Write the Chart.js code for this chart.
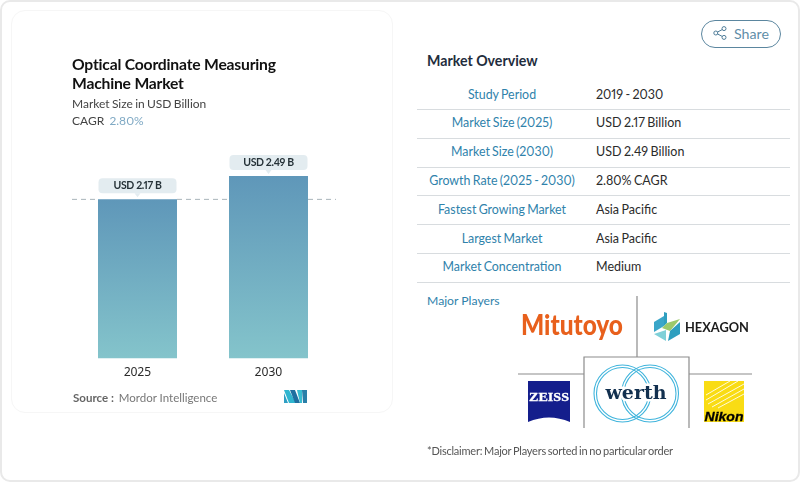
<!DOCTYPE html>
<html>
<head>
<meta charset="utf-8">
<script src="https://cdn.jsdelivr.net/npm/chart.js@4"></script>
<style>
  html, body { margin:0; padding:0; background:#fff; }
  body { width:800px; height:482px; position:relative; overflow:hidden; font-family:Lato, sans-serif; font-feature-settings:"pnum"; }
  .abs { position:absolute; white-space:nowrap; }
  #frame { left:0; top:0; width:796px; height:478px; border:2px solid #e9e9e9; border-radius:10px; }
  #card { left:11px; top:10px; width:380px; height:401px; border:1px solid #f6f6f6; border-radius:14px; }
  #chartBox { left:0; top:0; width:400px; height:482px; }
  .title { left:72px; font-size:15.7px; font-weight:700; color:#111; letter-spacing:-.2px; }
  .sub { left:72px; font-size:12px; color:#444; word-spacing:-.8px; }
  #share { left:701px; top:20px; width:78px; height:26px; border:1px solid #5b869f; border-radius:14px; }
  #shareTxt { left:734px; top:25px; font-size:14.2px; color:#5f8ea8; }
  #overview { left:427px; top:52px; font-size:14.2px; font-weight:700; color:#1f2d3d; }
  .rowLine { left:417px; width:373px; height:1px; background:#d8dcdf; }
  .lbl { left:417px; width:170px; text-align:center; font-size:12.4px; color:#2f82ab; word-spacing:-.9px; }
  .val { left:596px; font-size:12.5px; color:#2b2b2b; word-spacing:-.8px; }
  #players { left:427px; top:293px; font-size:12.2px; color:#2f82ab; }
  #disclaimer { left:427px; top:444px; font-size:11px; color:#555; word-spacing:-.8px; letter-spacing:-.22px; }
  #source { left:73px; top:391px; font-size:11.5px; color:#777; }
  #source b { color:#666; margin-right:2px; }
  svg.abs { overflow:visible; }
</style>
</head>
<body>
<div class="abs" id="frame"></div>
<div class="abs" id="card"></div>
<div class="abs" id="chartBox"><canvas id="chart"></canvas></div>

<div class="abs title" style="top:55px">Optical Coordinate Measuring</div>
<div class="abs title" style="top:74px">Machine Market</div>
<div class="abs sub" style="top:96px">Market Size in USD Billion</div>
<div class="abs sub" style="top:113px">CAGR <span style="color:#7fa9c4;margin-left:3px">2.80%</span></div>
<div class="abs" id="source"><b>Source :</b> Mordor Intelligence</div>

<svg class="abs" style="left:284px;top:390px" width="24" height="13" viewBox="0 0 24 13">
  <polygon points="0,0 5,0 12,13 5,13" fill="#2fb5cf"/>
  <polygon points="0,3 4,13 0,13" fill="#2f9fc4"/>
  <polygon points="6,0 11,0 16,13 11,13" fill="#1f6fa0"/>
  <polygon points="13,0 18,0 18,13 16,13" fill="#38bcd0"/>
  <polygon points="18,0 23,0 23,13 19,13" fill="#2a7fa8"/>
</svg>

<div class="abs" id="share"></div>
<svg class="abs" style="left:713px;top:26px" width="14" height="14" viewBox="0 0 14 14" fill="none" stroke="#4f7d99" stroke-width="1">
  <circle cx="11" cy="2.6" r="2"/><circle cx="2.8" cy="7" r="2"/><circle cx="11" cy="11.4" r="2"/>
  <path d="M4.6 6 L9.2 3.6 M4.6 8 L9.2 10.4"/>
</svg>
<div class="abs" id="shareTxt">Share</div>

<div class="abs" id="overview">Market Overview</div>
<div id="table"></div>

<div class="abs" id="players">Major Players</div>

<svg class="abs" style="left:0;top:0" width="800" height="482" viewBox="0 0 800 482">
  <g fill="none" stroke="#8c8c8c" stroke-width="1.2">
    <path d="M637 296 V357 M584 428 V357 H689 V428 M518 374 H584 M689 374 H752"/>
  </g>
  <!-- Mitutoyo -->
  <text x="521" y="335" font-family="Lato" font-weight="900" font-size="28" fill="#e8601c" textLength="102" lengthAdjust="spacingAndGlyphs">Mitutoyo</text>
  <!-- Hexagon -->
  <polygon points="654,322 664,316 664,326 654,332" fill="#3aa6c9"/>
  <polygon points="664,312 667,313 667,323 664,326" fill="#2f9fbf"/>
  <polygon points="667,323 680,319 670,331 662,328" fill="#9cc96b"/>
  <polygon points="670,331 680,322 680,334 668,341" fill="#2f9fbf"/>
  <polygon points="654,334 666,330 666,341" fill="#7fd0d8"/>
  <text x="685" y="332" font-family="Lato" font-weight="700" font-size="13.5" fill="#1c1c1c" textLength="64" lengthAdjust="spacingAndGlyphs">HEXAGON</text>
  <!-- Zeiss -->
  <path d="M528 381 H570 V422 Q549 413 528 422 Z" fill="#141e8c"/>
  <text x="549" y="401" text-anchor="middle" font-family="Liberation Serif" font-weight="700" font-size="11.5" fill="#fff" stroke="#fff" stroke-width=".3" textLength="40" lengthAdjust="spacingAndGlyphs">ZEISS</text>
  <!-- Werth -->
  <g fill="none" stroke="#3fb4dc" stroke-width="1.1">
    <circle cx="622.5" cy="393.5" r="28.5"/><circle cx="622.5" cy="393.5" r="26"/>
    <circle cx="650" cy="393.5" r="28.5"/><circle cx="650" cy="393.5" r="26"/>
  </g>
  <text x="636" y="399" text-anchor="middle" font-family="DejaVu Serif" font-weight="700" font-size="19" fill="#12304f" stroke="#fff" stroke-width="5" paint-order="stroke" textLength="61" lengthAdjust="spacingAndGlyphs">werth</text>
  <!-- Nikon -->
  <rect x="704" y="381" width="40" height="41" fill="#f9dc14"/>
  <g stroke="#fff" stroke-width="1" opacity=".85">
    <path d="M708 404 L744 384 M712 407 L744 389 M706 400 L738 381 M706 395 L730 381 M718 408 L744 394"/>
  </g>
  <text x="724" y="420.5" text-anchor="middle" font-family="Liberation Sans" font-weight="700" font-style="italic" font-size="13" fill="#000" stroke="#000" stroke-width=".3" textLength="39" lengthAdjust="spacingAndGlyphs">Nikon</text>
</svg>

<div class="abs" id="disclaimer">*Disclaimer: Major Players sorted in no particular order</div>

<script>
// ── Data ─────────────────────────────────────────────────────
const years = ['2025', '2030'];
const marketSize = [2.17, 2.49];
const barLabels = ['USD 2.17 B', 'USD 2.49 B'];
const refValue = 2.17;

const overviewLabels = ['Study Period', 'Market Size (2025)', 'Market Size (2030)', 'Growth Rate (2025 - 2030)', 'Fastest Growing Market', 'Largest Market', 'Market Concentration'];
const overviewValues = ['2019 - 2030', 'USD 2.17 Billion', 'USD 2.49 Billion', '2.80% CAGR', 'Asia Pacific', 'Asia Pacific', 'Medium'];

// ── Overview table ───────────────────────────────────────────
const table = document.getElementById('table');
overviewLabels.forEach((t, i) => {
  const top = Math.round(86.6 + i * 28.8);
  table.innerHTML += `<div class="abs lbl" style="top:${top}px">${t}</div>
    <div class="abs val" style="top:${top}px">${overviewValues[i]}</div>
    <div class="abs rowLine" style="top:${Math.round(109 + i * 28.8)}px"></div>`;
});

// ── Dashed line and pills ────────────────────────────────────
const barExtras = {
  id: 'barExtras',
  afterDatasetsDraw(chart) {
    const { ctx, scales: { x, y } } = chart;
    const yRef = y.getPixelForValue(refValue);
    ctx.save();
    ctx.strokeStyle = '#a9b4ba';
    ctx.lineWidth = 1;
    ctx.setLineDash([5, 4]);
    [[72, 98], [177, 229], [308, 336]].forEach(([a, b]) => {
      ctx.beginPath();
      ctx.moveTo(a, yRef);
      ctx.lineTo(b, yRef);
      ctx.stroke();
    });
    ctx.setLineDash([]);
    barLabels.forEach((t, i) => {
      const cx = x.getPixelForValue(i);
      const top = y.getPixelForValue(marketSize[i]);
      ctx.fillStyle = '#e3ecf0';
      ctx.beginPath();
      ctx.roundRect(cx - 39, top - 21, 78, 15, 4);
      ctx.fill();
      ctx.beginPath();
      ctx.moveTo(cx - 3, top - 6);
      ctx.lineTo(cx + 3, top - 6);
      ctx.lineTo(cx, top - 2);
      ctx.fill();
      ctx.fillStyle = '#263238';
      ctx.font = '700 10.5px Lato';
      ctx.letterSpacing = '-0.35px';
      ctx.textAlign = 'center';
      ctx.textBaseline = 'middle';
      ctx.fillText(t, cx, top - 13.5);
    });
    ctx.restore();
  }
};

// ── Chart ────────────────────────────────────────────────────
new Chart(document.getElementById('chart'), {
  type: 'bar',
  data: {
    labels: years,
    datasets: [{
      data: marketSize,
      barPercentage: 0.603,
      categoryPercentage: 1,
      backgroundColor(c) {
        const { chart, dataIndex } = c;
        if (!chart.chartArea) return '#6fa8c0';
        const y = chart.scales.y;
        const g = chart.ctx.createLinearGradient(0, y.getPixelForValue(marketSize[dataIndex]), 0, y.getPixelForValue(0));
        g.addColorStop(0, '#5f97b9');
        g.addColorStop(1, '#84c4cb');
        return g;
      }
    }]
  },
  options: {
    responsive: true,
    maintainAspectRatio: false,
    animation: false,
    layout: { padding: { left: 72, right: 66, top: 138.5, bottom: 0 } },
    plugins: { legend: { display: false }, tooltip: { enabled: false } },
    scales: {
      x: {
        grid: { display: false },
        border: { display: false },
        ticks: { color: '#2b2b2b', font: { family: 'Noto Sans', size: 12 }, padding: -1, maxRotation: 0 },
        afterFit(s) { s.height = 123.5; }
      },
      y: { display: false, min: 0, max: 3 }
    }
  },
  plugins: [barExtras]
});
</script>
</body>
</html>
